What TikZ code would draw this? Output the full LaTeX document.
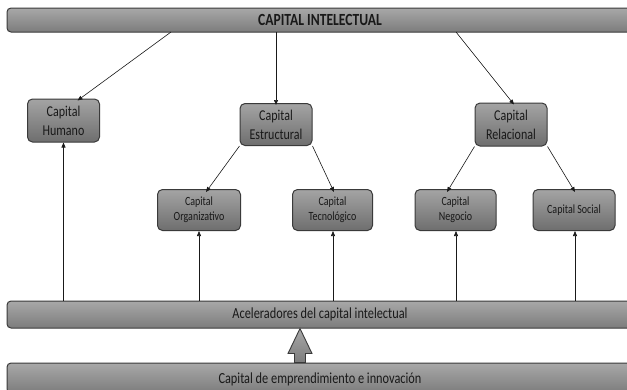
\documentclass[tikz,border=0pt]{standalone}
\usepackage{fontspec}
\setmainfont{Carlito}[FakeStretch=0.8]
\usetikzlibrary{arrows.meta,calc}
\definecolor{gtop}{HTML}{A4A4A4}
\definecolor{gbot}{HTML}{6E6E6E}
\definecolor{btop}{HTML}{A8A8A8}
\definecolor{bbot}{HTML}{7C7C7C}
\definecolor{edge}{HTML}{3A3A3A}
\tikzset{
  box/.style={rectangle, rounded corners=5pt, draw=edge, line width=1pt,
    top color=gtop, bottom color=gbot, align=center, inner sep=0pt,
    text=black!90},
  bigbox/.style={box, minimum width=72pt, minimum height=43pt,
    font=\fontsize{15}{19}\selectfont},
  smallbox/.style={box, minimum width=82pt, minimum height=41pt,
    font=\fontsize{12.5}{15}\selectfont},
  bar/.style={rectangle, rounded corners=4pt, draw=edge, line width=1pt,
    top color=btop, bottom color=bbot, inner sep=0pt, minimum width=626pt,
    text=black!90},
  arr/.style={draw=black!90, line width=0.6pt, -{Triangle[length=5pt,width=4pt]}},
  fat/.style={draw=edge, line width=0.9pt, top color=btop, bottom color=bbot}
}
\begin{document}
\begin{tikzpicture}[x=1pt,y=-1pt]
\useasboundingbox (0,0) rectangle (627,389);
\clip (0,0) rectangle (627,389);
% bars
\node[bar, minimum height=24pt, font=\bfseries\fontsize{17}{20}\selectfont] (top) at (320,20) {CAPITAL INTELECTUAL};
\node[bar, minimum height=27pt, font=\fontsize{15.4}{18}\selectfont] (acc) at (320,314.5) {Aceleradores del capital intelectual};
\node[bar, minimum height=30pt, font=\fontsize{15.4}{18}\selectfont, text depth=0pt] (bot) at (320,378) {Capital de emprendimiento e innovación};
% level 1
\node[bigbox] (hum) at (63.5,120.5) {Capital\\Humano};
\node[bigbox, minimum height=42pt] (est) at (276,124.5) {Capital\\Estructural};
\node[bigbox] (rel) at (511,124.5) {Capital\\Relacional};
% level 2
\node[smallbox, minimum width=83pt] (org) at (199,210) {Capital\\Organizativo};
\node[smallbox, minimum width=80pt] (tec) at (332.5,210) {Capital\\Tecnológico};
\node[smallbox, minimum width=81pt] (neg) at (455.5,210) {Capital\\Negocio};
\node[smallbox] (soc) at (574,210) {Capital Social};
% arrows from top bar
\coordinate (t1) at (171,32);
\coordinate (t2) at (276,32);
\coordinate (t3) at (456,32);
\draw[arr] (t1) -- ([xshift=14pt,yshift=-2pt]hum.north);
\draw[arr] (t2) -- ([yshift=-2pt]est.north);
\draw[arr] (t3) -- ([xshift=3pt,yshift=-2pt]rel.north);
% second level arrows
\draw[arr] (est.south west) -- ([xshift=7pt,yshift=-3pt]org.north);
\draw[arr] (est.south east) -- ([xshift=1.5pt,yshift=-3pt]tec.north);
\draw[arr] (rel.south west) -- ([xshift=-8.5pt,yshift=-3pt]neg.north);
\draw[arr] (rel.south east) -- ([xshift=1pt,yshift=-3pt]soc.north);
% up arrows from accelerators
\draw[arr] (hum.south |- acc.north) -- (hum.south);
\draw[arr] (org.south |- acc.north) -- (org.south);
\draw[arr] ([xshift=0.5pt]tec.south |- acc.north) -- ([xshift=0.5pt]tec.south);
\draw[arr] ([xshift=0.5pt]neg.south |- acc.north) -- ([xshift=0.5pt]neg.south);
\draw[arr] ([xshift=1pt]soc.south |- acc.north) -- ([xshift=1pt]soc.south);
% block arrow
\coordinate (ab) at (bot.north -| 300,0);
\coordinate (at) at (acc.south -| 300,0);
\path[fat] ($(ab)+(-5.5,0)$) -- ($(at)+(-5.5,25)$) -- ($(at)+(-12,25)$) -- (at)
  -- ($(at)+(12,25)$) -- ($(at)+(5.5,25)$) -- ($(ab)+(5.5,0)$) -- cycle;
\end{tikzpicture}
\end{document}
